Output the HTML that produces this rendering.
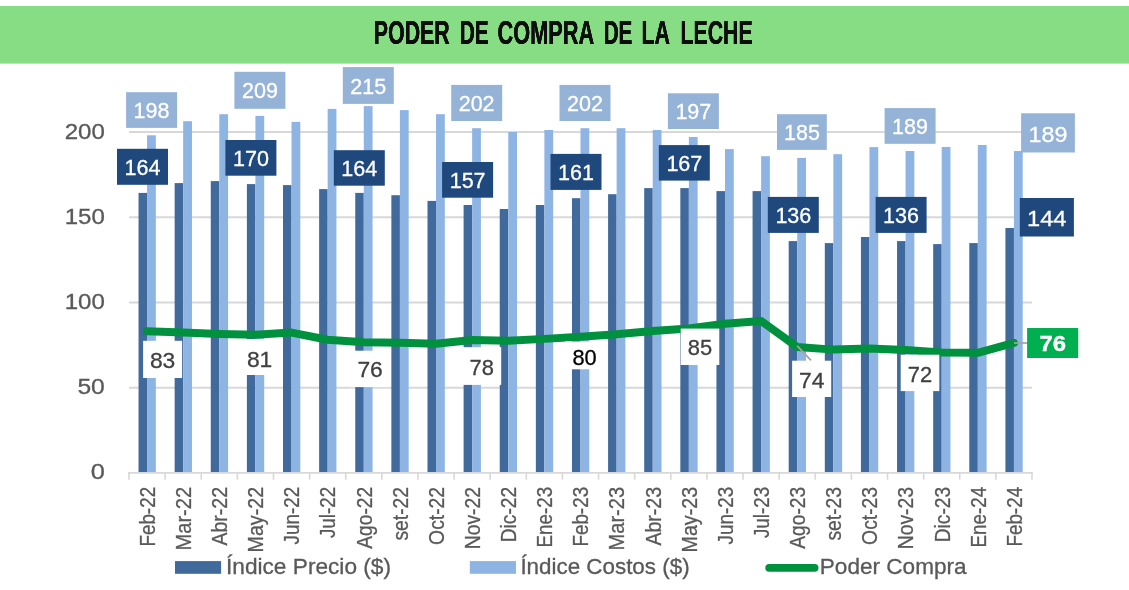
<!DOCTYPE html>
<html lang="es"><head><meta charset="utf-8"><title>Poder de compra de la leche</title>
<style>html,body{margin:0;padding:0;background:#fff}body{width:1129px;height:590px;overflow:hidden;font-family:"Liberation Sans",sans-serif}svg{display:block}text{font-family:"Liberation Sans",sans-serif}</style></head><body>
<svg width="1129" height="590" viewBox="0 0 1129 590">
<rect x="0" y="0" width="1129" height="590" fill="#ffffff"/>
<rect x="0" y="6" width="1129" height="57.6" fill="#86dd83"/>
<defs><filter id="hx" x="-2%" y="-10%" width="104%" height="120%"><feOffset in="SourceGraphic" dx="0.45" dy="0" result="a"/><feOffset in="SourceGraphic" dx="-0.45" dy="0" result="b"/><feMerge><feMergeNode in="a"/><feMergeNode in="b"/><feMergeNode in="SourceGraphic"/></feMerge></filter></defs>
<g font-weight="700" font-size="33.4" fill="#111111" filter="url(#hx)">
<text x="373.8" y="43.6" textLength="76.0" lengthAdjust="spacingAndGlyphs">PODER</text>
<text x="459.7" y="43.6" textLength="29.0" lengthAdjust="spacingAndGlyphs">DE</text>
<text x="497.6" y="43.6" textLength="96.7" lengthAdjust="spacingAndGlyphs">COMPRA</text>
<text x="603.7" y="43.6" textLength="28.7" lengthAdjust="spacingAndGlyphs">DE</text>
<text x="641.4" y="43.6" textLength="28.5" lengthAdjust="spacingAndGlyphs">LA</text>
<text x="680.4" y="43.6" textLength="72.3" lengthAdjust="spacingAndGlyphs">LECHE</text>
</g>
<g stroke="#d8d8d8" stroke-width="2" fill="none">
<line x1="129.0" y1="387.63" x2="1032" y2="387.63"/>
<line x1="129.0" y1="302.41" x2="1032" y2="302.41"/>
<line x1="129.0" y1="217.18" x2="1032" y2="217.18"/>
<line x1="129.0" y1="131.96" x2="1032" y2="131.96"/>
</g>
<g fill="#40699c">
<rect x="138.53" y="192.9" width="8.53" height="280.0"/>
<rect x="174.65" y="183.1" width="8.53" height="289.8"/>
<rect x="210.77" y="181.1" width="8.53" height="291.8"/>
<rect x="246.89" y="184.1" width="8.53" height="288.8"/>
<rect x="283.01" y="185.1" width="8.53" height="287.8"/>
<rect x="319.13" y="189.1" width="8.53" height="283.8"/>
<rect x="355.25" y="192.9" width="8.53" height="280.0"/>
<rect x="391.37" y="195.2" width="8.53" height="277.7"/>
<rect x="427.49" y="200.9" width="8.53" height="272.0"/>
<rect x="463.61" y="205.0" width="8.53" height="267.9"/>
<rect x="499.73" y="209.0" width="8.53" height="263.9"/>
<rect x="535.85" y="205.0" width="8.53" height="267.9"/>
<rect x="571.97" y="198.2" width="8.53" height="274.7"/>
<rect x="608.09" y="194.2" width="8.53" height="278.7"/>
<rect x="644.21" y="188.1" width="8.53" height="284.8"/>
<rect x="680.33" y="188.1" width="8.53" height="284.8"/>
<rect x="716.45" y="191.1" width="8.53" height="281.8"/>
<rect x="752.57" y="191.1" width="8.53" height="281.8"/>
<rect x="788.69" y="241.1" width="8.53" height="231.8"/>
<rect x="824.81" y="243.1" width="8.53" height="229.8"/>
<rect x="860.93" y="237.0" width="8.53" height="235.9"/>
<rect x="897.05" y="241.1" width="8.53" height="231.8"/>
<rect x="933.17" y="244.1" width="8.53" height="228.8"/>
<rect x="969.29" y="243.1" width="8.53" height="229.8"/>
<rect x="1005.41" y="228.0" width="8.53" height="244.9"/>
</g><g fill="#8eb4e3">
<rect x="147.06" y="135.3" width="8.78" height="337.6"/>
<rect x="183.18" y="121.2" width="8.78" height="351.7"/>
<rect x="219.30" y="114.2" width="8.78" height="358.7"/>
<rect x="255.42" y="115.9" width="8.78" height="357.0"/>
<rect x="291.54" y="121.9" width="8.78" height="351.0"/>
<rect x="327.66" y="108.9" width="8.78" height="364.0"/>
<rect x="363.78" y="106.1" width="8.78" height="366.8"/>
<rect x="399.90" y="110.1" width="8.78" height="362.8"/>
<rect x="436.02" y="114.2" width="8.78" height="358.7"/>
<rect x="472.14" y="128.2" width="8.78" height="344.7"/>
<rect x="508.26" y="132.0" width="8.78" height="340.9"/>
<rect x="544.38" y="130.0" width="8.78" height="342.9"/>
<rect x="580.50" y="128.2" width="8.78" height="344.7"/>
<rect x="616.62" y="128.2" width="8.78" height="344.7"/>
<rect x="652.74" y="130.0" width="8.78" height="342.9"/>
<rect x="688.86" y="137.0" width="8.78" height="335.9"/>
<rect x="724.98" y="149.1" width="8.78" height="323.8"/>
<rect x="761.10" y="156.2" width="8.78" height="316.7"/>
<rect x="797.22" y="157.9" width="8.78" height="315.0"/>
<rect x="833.34" y="154.2" width="8.78" height="318.7"/>
<rect x="869.46" y="147.1" width="8.78" height="325.8"/>
<rect x="905.58" y="151.0" width="8.78" height="321.9"/>
<rect x="941.70" y="147.0" width="8.78" height="325.9"/>
<rect x="977.82" y="145.0" width="8.78" height="327.9"/>
<rect x="1013.94" y="151.0" width="8.78" height="321.9"/>
</g>
<g stroke="#d8d8d8" stroke-width="1.8" fill="none">
<line x1="128.2" y1="472.85" x2="1032.8" y2="472.85"/>
<line x1="129.00" y1="472.85" x2="129.00" y2="479.7" stroke-width="1.6"/>
<line x1="165.12" y1="472.85" x2="165.12" y2="479.7" stroke-width="1.6"/>
<line x1="201.24" y1="472.85" x2="201.24" y2="479.7" stroke-width="1.6"/>
<line x1="237.36" y1="472.85" x2="237.36" y2="479.7" stroke-width="1.6"/>
<line x1="273.48" y1="472.85" x2="273.48" y2="479.7" stroke-width="1.6"/>
<line x1="309.60" y1="472.85" x2="309.60" y2="479.7" stroke-width="1.6"/>
<line x1="345.72" y1="472.85" x2="345.72" y2="479.7" stroke-width="1.6"/>
<line x1="381.84" y1="472.85" x2="381.84" y2="479.7" stroke-width="1.6"/>
<line x1="417.96" y1="472.85" x2="417.96" y2="479.7" stroke-width="1.6"/>
<line x1="454.08" y1="472.85" x2="454.08" y2="479.7" stroke-width="1.6"/>
<line x1="490.20" y1="472.85" x2="490.20" y2="479.7" stroke-width="1.6"/>
<line x1="526.32" y1="472.85" x2="526.32" y2="479.7" stroke-width="1.6"/>
<line x1="562.44" y1="472.85" x2="562.44" y2="479.7" stroke-width="1.6"/>
<line x1="598.56" y1="472.85" x2="598.56" y2="479.7" stroke-width="1.6"/>
<line x1="634.68" y1="472.85" x2="634.68" y2="479.7" stroke-width="1.6"/>
<line x1="670.80" y1="472.85" x2="670.80" y2="479.7" stroke-width="1.6"/>
<line x1="706.92" y1="472.85" x2="706.92" y2="479.7" stroke-width="1.6"/>
<line x1="743.04" y1="472.85" x2="743.04" y2="479.7" stroke-width="1.6"/>
<line x1="779.16" y1="472.85" x2="779.16" y2="479.7" stroke-width="1.6"/>
<line x1="815.28" y1="472.85" x2="815.28" y2="479.7" stroke-width="1.6"/>
<line x1="851.40" y1="472.85" x2="851.40" y2="479.7" stroke-width="1.6"/>
<line x1="887.52" y1="472.85" x2="887.52" y2="479.7" stroke-width="1.6"/>
<line x1="923.64" y1="472.85" x2="923.64" y2="479.7" stroke-width="1.6"/>
<line x1="959.76" y1="472.85" x2="959.76" y2="479.7" stroke-width="1.6"/>
<line x1="995.88" y1="472.85" x2="995.88" y2="479.7" stroke-width="1.6"/>
<line x1="1032.00" y1="472.85" x2="1032.00" y2="479.7" stroke-width="1.6"/>
</g>
<polyline points="147.06,331.21 183.18,332.57 219.30,333.94 255.42,334.79 291.54,332.57 327.66,339.73 363.78,342.29 399.90,342.63 436.02,343.65 472.14,340.07 508.26,340.76 544.38,338.88 580.50,336.83 616.62,334.28 652.74,331.04 688.86,328.48 724.98,323.71 761.10,320.98 797.22,347.06 833.34,349.62 869.46,348.60 905.58,349.96 941.70,352.52 977.82,352.86 1013.94,342.97" fill="none" stroke="#00913f" stroke-width="8" stroke-linecap="round" stroke-linejoin="round"/>
<g font-size="21.5" fill="#595959" stroke="#595959" stroke-width="0.3">
<text x="64.7" y="138.5" textLength="40.1" lengthAdjust="spacingAndGlyphs">200</text>
<text x="64.7" y="223.7" textLength="40.1" lengthAdjust="spacingAndGlyphs">150</text>
<text x="64.7" y="308.9" textLength="40.1" lengthAdjust="spacingAndGlyphs">100</text>
<text x="77.4" y="394.1" textLength="27.4" lengthAdjust="spacingAndGlyphs">50</text>
<text x="90.7" y="479.4" textLength="14.1" lengthAdjust="spacingAndGlyphs">0</text>
</g>
<g font-size="22.5" fill="#595959" stroke="#595959" stroke-width="0.3">
<text transform="translate(154.86,486.9) rotate(-90)" x="0" y="0" text-anchor="end" textLength="59.7" lengthAdjust="spacingAndGlyphs">Feb-22</text>
<text transform="translate(190.98,486.9) rotate(-90)" x="0" y="0" text-anchor="end" textLength="63.6" lengthAdjust="spacingAndGlyphs">Mar-22</text>
<text transform="translate(227.10,486.9) rotate(-90)" x="0" y="0" text-anchor="end" textLength="58.7" lengthAdjust="spacingAndGlyphs">Abr-22</text>
<text transform="translate(263.22,486.9) rotate(-90)" x="0" y="0" text-anchor="end" textLength="65.6" lengthAdjust="spacingAndGlyphs">May-22</text>
<text transform="translate(299.34,486.9) rotate(-90)" x="0" y="0" text-anchor="end" textLength="57.6" lengthAdjust="spacingAndGlyphs">Jun-22</text>
<text transform="translate(335.46,486.9) rotate(-90)" x="0" y="0" text-anchor="end" textLength="51.2" lengthAdjust="spacingAndGlyphs">Jul-22</text>
<text transform="translate(371.58,486.9) rotate(-90)" x="0" y="0" text-anchor="end" textLength="61.8" lengthAdjust="spacingAndGlyphs">Ago-22</text>
<text transform="translate(407.70,486.9) rotate(-90)" x="0" y="0" text-anchor="end" textLength="53.7" lengthAdjust="spacingAndGlyphs">set-22</text>
<text transform="translate(443.82,486.9) rotate(-90)" x="0" y="0" text-anchor="end" textLength="58.0" lengthAdjust="spacingAndGlyphs">Oct-22</text>
<text transform="translate(479.94,486.9) rotate(-90)" x="0" y="0" text-anchor="end" textLength="62.4" lengthAdjust="spacingAndGlyphs">Nov-22</text>
<text transform="translate(516.06,486.9) rotate(-90)" x="0" y="0" text-anchor="end" textLength="55.4" lengthAdjust="spacingAndGlyphs">Dic-22</text>
<text transform="translate(552.18,486.9) rotate(-90)" x="0" y="0" text-anchor="end" textLength="60.6" lengthAdjust="spacingAndGlyphs">Ene-23</text>
<text transform="translate(588.30,486.9) rotate(-90)" x="0" y="0" text-anchor="end" textLength="59.7" lengthAdjust="spacingAndGlyphs">Feb-23</text>
<text transform="translate(624.42,486.9) rotate(-90)" x="0" y="0" text-anchor="end" textLength="63.6" lengthAdjust="spacingAndGlyphs">Mar-23</text>
<text transform="translate(660.54,486.9) rotate(-90)" x="0" y="0" text-anchor="end" textLength="58.7" lengthAdjust="spacingAndGlyphs">Abr-23</text>
<text transform="translate(696.66,486.9) rotate(-90)" x="0" y="0" text-anchor="end" textLength="65.6" lengthAdjust="spacingAndGlyphs">May-23</text>
<text transform="translate(732.78,486.9) rotate(-90)" x="0" y="0" text-anchor="end" textLength="57.6" lengthAdjust="spacingAndGlyphs">Jun-23</text>
<text transform="translate(768.90,486.9) rotate(-90)" x="0" y="0" text-anchor="end" textLength="51.2" lengthAdjust="spacingAndGlyphs">Jul-23</text>
<text transform="translate(805.02,486.9) rotate(-90)" x="0" y="0" text-anchor="end" textLength="61.8" lengthAdjust="spacingAndGlyphs">Ago-23</text>
<text transform="translate(841.14,486.9) rotate(-90)" x="0" y="0" text-anchor="end" textLength="53.7" lengthAdjust="spacingAndGlyphs">set-23</text>
<text transform="translate(877.26,486.9) rotate(-90)" x="0" y="0" text-anchor="end" textLength="58.0" lengthAdjust="spacingAndGlyphs">Oct-23</text>
<text transform="translate(913.38,486.9) rotate(-90)" x="0" y="0" text-anchor="end" textLength="62.4" lengthAdjust="spacingAndGlyphs">Nov-23</text>
<text transform="translate(949.50,486.9) rotate(-90)" x="0" y="0" text-anchor="end" textLength="55.4" lengthAdjust="spacingAndGlyphs">Dic-23</text>
<text transform="translate(985.62,486.9) rotate(-90)" x="0" y="0" text-anchor="end" textLength="60.6" lengthAdjust="spacingAndGlyphs">Ene-24</text>
<text transform="translate(1021.74,486.9) rotate(-90)" x="0" y="0" text-anchor="end" textLength="59.7" lengthAdjust="spacingAndGlyphs">Feb-24</text>
</g>
<rect x="126.1" y="92.2" width="51.0" height="35.7" fill="#95b3d7"/><text x="133.6" y="118.2" font-size="21.5" fill="#ffffff" stroke="#ffffff" stroke-width="0.3" textLength="35.9" lengthAdjust="spacingAndGlyphs">198</text>
<rect x="234.4" y="71.8" width="51.0" height="37.0" fill="#95b3d7"/><text x="242.0" y="98.4" font-size="21.5" fill="#ffffff" stroke="#ffffff" stroke-width="0.3" textLength="35.9" lengthAdjust="spacingAndGlyphs">209</text>
<rect x="342.8" y="67.1" width="51.0" height="36.8" fill="#95b3d7"/><text x="350.3" y="93.6" font-size="21.5" fill="#ffffff" stroke="#ffffff" stroke-width="0.3" textLength="35.9" lengthAdjust="spacingAndGlyphs">215</text>
<rect x="451.2" y="84.9" width="51.0" height="36.1" fill="#95b3d7"/><text x="458.7" y="111.0" font-size="21.5" fill="#ffffff" stroke="#ffffff" stroke-width="0.3" textLength="35.9" lengthAdjust="spacingAndGlyphs">202</text>
<rect x="559.5" y="84.9" width="51.0" height="36.1" fill="#95b3d7"/><text x="567.1" y="111.0" font-size="21.5" fill="#ffffff" stroke="#ffffff" stroke-width="0.3" textLength="35.9" lengthAdjust="spacingAndGlyphs">202</text>
<rect x="667.9" y="93.3" width="51.0" height="35.7" fill="#95b3d7"/><text x="675.4" y="119.2" font-size="21.5" fill="#ffffff" stroke="#ffffff" stroke-width="0.3" textLength="35.9" lengthAdjust="spacingAndGlyphs">197</text>
<rect x="777.0" y="114.2" width="49.8" height="35.7" fill="#95b3d7"/><text x="784.0" y="140.2" font-size="21.5" fill="#ffffff" stroke="#ffffff" stroke-width="0.3" textLength="35.9" lengthAdjust="spacingAndGlyphs">185</text>
<rect x="884.6" y="108.1" width="51.0" height="35.7" fill="#95b3d7"/><text x="892.1" y="134.1" font-size="21.5" fill="#ffffff" stroke="#ffffff" stroke-width="0.3" textLength="35.9" lengthAdjust="spacingAndGlyphs">189</text>
<rect x="117.0" y="148.8" width="51.0" height="36.0" fill="#1f497d"/><text x="124.6" y="174.9" font-size="21.5" fill="#ffffff" stroke="#ffffff" stroke-width="0.3" textLength="35.9" lengthAdjust="spacingAndGlyphs">164</text>
<rect x="225.4" y="140.0" width="51.0" height="35.7" fill="#1f497d"/><text x="233.0" y="165.9" font-size="21.5" fill="#ffffff" stroke="#ffffff" stroke-width="0.3" textLength="35.9" lengthAdjust="spacingAndGlyphs">170</text>
<rect x="333.8" y="150.2" width="51.0" height="35.5" fill="#1f497d"/><text x="341.3" y="176.0" font-size="21.5" fill="#ffffff" stroke="#ffffff" stroke-width="0.3" textLength="35.9" lengthAdjust="spacingAndGlyphs">164</text>
<rect x="442.1" y="162.0" width="51.0" height="35.7" fill="#1f497d"/><text x="449.7" y="187.9" font-size="21.5" fill="#ffffff" stroke="#ffffff" stroke-width="0.3" textLength="35.9" lengthAdjust="spacingAndGlyphs">157</text>
<rect x="550.5" y="153.9" width="51.0" height="36.0" fill="#1f497d"/><text x="558.0" y="180.0" font-size="21.5" fill="#ffffff" stroke="#ffffff" stroke-width="0.3" textLength="35.9" lengthAdjust="spacingAndGlyphs">161</text>
<rect x="658.8" y="145.1" width="51.0" height="35.5" fill="#1f497d"/><text x="666.4" y="170.9" font-size="21.5" fill="#ffffff" stroke="#ffffff" stroke-width="0.3" textLength="35.9" lengthAdjust="spacingAndGlyphs">167</text>
<rect x="767.8" y="196.9" width="51.0" height="36.0" fill="#1f497d"/><text x="775.4" y="223.0" font-size="21.5" fill="#ffffff" stroke="#ffffff" stroke-width="0.3" textLength="35.9" lengthAdjust="spacingAndGlyphs">136</text>
<rect x="875.6" y="196.9" width="51.0" height="36.0" fill="#1f497d"/><text x="883.1" y="223.0" font-size="21.5" fill="#ffffff" stroke="#ffffff" stroke-width="0.3" textLength="35.9" lengthAdjust="spacingAndGlyphs">136</text>
<rect x="1021.1" y="113.3" width="53.8" height="39.2" fill="#95b3d7"/><text x="1028.5" y="141.8" font-size="22.5" fill="#ffffff" stroke="#ffffff" stroke-width="0.3" textLength="38.9" lengthAdjust="spacingAndGlyphs">189</text>
<rect x="1019.8" y="198.0" width="54.1" height="38.5" fill="#1f497d"/><text x="1027.1" y="226.3" font-size="22.5" fill="#ffffff" stroke="#ffffff" stroke-width="0.3" textLength="39.4" lengthAdjust="spacingAndGlyphs">144</text>
<rect x="143.1" y="340.8" width="39.0" height="37.2" fill="#ffffff"/><text x="149.9" y="367.5" font-size="21.5" fill="#404040" stroke="#404040" stroke-width="0.3" textLength="25.4" lengthAdjust="spacingAndGlyphs">83</text>
<rect x="240.1" y="339.0" width="39.0" height="36.0" fill="#ffffff"/><text x="246.9" y="366.6" font-size="21.5" fill="#404040" stroke="#404040" stroke-width="0.3" textLength="25.4" lengthAdjust="spacingAndGlyphs">81</text>
<rect x="350.6" y="350.7" width="39.0" height="36.4" fill="#ffffff"/><text x="357.4" y="377.0" font-size="21.5" fill="#404040" stroke="#404040" stroke-width="0.3" textLength="25.4" lengthAdjust="spacingAndGlyphs">76</text>
<rect x="462.2" y="347.2" width="39.0" height="37.7" fill="#ffffff"/><text x="469.5" y="375.1" font-size="21.5" fill="#404040" stroke="#404040" stroke-width="0.3" textLength="24.4" lengthAdjust="spacingAndGlyphs">78</text>
<rect x="565.0" y="341.5" width="39.0" height="27.8" fill="#ffffff"/><text x="572.4" y="364.7" font-size="21.5" fill="#000000" stroke="#000000" stroke-width="0.3" textLength="24.2" lengthAdjust="spacingAndGlyphs">80</text>
<rect x="680.7" y="328.6" width="38.6" height="36.4" fill="#ffffff"/><text x="687.8" y="355.4" font-size="21.5" fill="#404040" stroke="#404040" stroke-width="0.3" textLength="24.4" lengthAdjust="spacingAndGlyphs">85</text>
<line x1="797.2" y1="345.8" x2="811.2" y2="360.7" stroke="#a3a3a3" stroke-width="1.7"/>
<rect x="792.1" y="360.7" width="39.1" height="36.3" fill="#ffffff"/><text x="799.0" y="388.0" font-size="21.5" fill="#404040" stroke="#404040" stroke-width="0.3" textLength="25.4" lengthAdjust="spacingAndGlyphs">74</text>
<rect x="900.7" y="354.7" width="38.6" height="36.4" fill="#ffffff"/><text x="907.8" y="381.5" font-size="21.5" fill="#404040" stroke="#404040" stroke-width="0.3" textLength="24.4" lengthAdjust="spacingAndGlyphs">72</text>
<line x1="1014" y1="343" x2="1028" y2="343" stroke="#a3a3a3" stroke-width="1.7"/>
<rect x="1027.1" y="328.0" width="51.1" height="30.0" fill="#00b050"/><text x="1039.4" y="350.9" font-size="22" font-weight="700" fill="#ffffff" stroke="#ffffff" stroke-width="0.3" textLength="26.6" lengthAdjust="spacingAndGlyphs">76</text>
<rect x="175" y="561.1" width="46.1" height="12.7" fill="#40699c"/>
<rect x="469.8" y="561.1" width="46.2" height="12.7" fill="#8eb4e3"/>
<line x1="769.2" y1="567.8" x2="814.6" y2="567.8" stroke="#00913f" stroke-width="7.8" stroke-linecap="round"/>
<g font-size="21.2" fill="#595959" stroke="#595959" stroke-width="0.3">
<text x="226.0" y="574" textLength="165.0" lengthAdjust="spacingAndGlyphs">Índice Precio ($)</text>
<text x="520.4" y="574" textLength="169.2" lengthAdjust="spacingAndGlyphs">Índice Costos ($)</text>
<text x="819.8" y="574" textLength="146.8" lengthAdjust="spacingAndGlyphs">Poder Compra</text>
</g>
</svg></body></html>
